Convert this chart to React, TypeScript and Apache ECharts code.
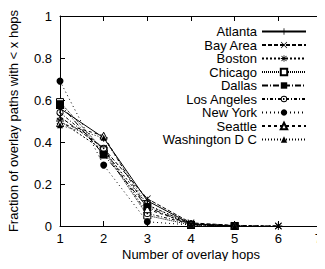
import React, { useEffect, useRef } from "react";
import * as echarts from "echarts";

const hops = [1, 2, 3, 4, 5, 6];
const cities = ["Atlanta", "Bay Area", "Boston", "Chicago", "Dallas", "Los Angeles", "New York", "Seattle", "Washington D C"];
const atlanta = [0.56, 0.42, 0.12, 0.01, 0.0];
const bayArea = [0.52, 0.37, 0.13, 0.015, 0.003, 0.0];
const boston = [0.5, 0.36, 0.1, 0.01, 0.002, 0.0];
const chicago = [0.59, 0.36, 0.05, 0.005, 0.0];
const dallas = [0.58, 0.34, 0.09, 0.005, 0.0];
const losAngeles = [0.54, 0.37, 0.06, 0.01, 0.0];
const newYork = [0.69, 0.29, 0.02, 0.005, 0.0];
const seattle = [0.49, 0.43, 0.08, 0.01, 0.0];
const washington = [0.48, 0.42, 0.1, 0.01, 0.0];
const values = [atlanta, bayArea, boston, chicago, dallas, losAngeles, newYork, seattle, washington];

const PLUS = "path://M4.4,0H5.6V4.4H10V5.6H5.6V10H4.4V5.6H0V4.4H4.4Z";
const CROSS = "path://M0.8,0L5,4.2L9.2,0L10,0.8L5.8,5L10,9.2L9.2,10L5,5.8L0.8,10L0,9.2L4.2,5L0,0.8Z";
const STAR = "path://M4.4,0H5.6V4.4H10V5.6H5.6V10H4.4V5.6H0V4.4H4.4Z M1.5,0.7L5,4.2L8.5,0.7L9.3,1.5L5.8,5L9.3,8.5L8.5,9.3L5,5.8L1.5,9.3L0.7,8.5L4.2,5L0.7,1.5Z";
const ODOT = "path://M5,0A5,5 0 0,0 5,10A5,5 0 0,0 5,0ZM5,1.3A3.7,3.7 0 0,1 5,8.7A3.7,3.7 0 0,1 5,1.3ZM5,3.8A1.2,1.2 0 0,0 5,6.2A1.2,1.2 0 0,0 5,3.8Z";

const symbols = [PLUS, CROSS, STAR, "rect", "rect", ODOT, "circle", "triangle", "triangle"];
const symbolSizes = [8, 7, 8, 7, 8, 7, 7, 7, 6];
const fills = ["#000", "#000", "#000", "#fff", "#000", "#000", "#000", "#fff", "#000"];
const borders = [0, 0, 0, 1, 0, 0, 0, 1, 0];
const dashes: any[] = ["solid", [4, 2], [2, 2], [1, 1], [6, 2, 1, 2], [3, 2, 1, 2], [1, 3], [3, 3], [1, 2]];

export default function App() {
  const ref = useRef<HTMLDivElement>(null);
  useEffect(() => {
    const chart = echarts.init(ref.current!, null, { renderer: "svg" });
    const font = "Liberation Sans, Arial, Helvetica, sans-serif";
    const axisCommon = {
      axisLine: { show: true, onZero: false, lineStyle: { color: "#000", width: 1 } },
      axisTick: { show: true, inside: true, length: 5, lineStyle: { color: "#000" } },
      splitLine: { show: false },
    };
    chart.setOption({
      animation: false,
      textStyle: { fontFamily: font, color: "#000" },
      grid: { left: 60, right: 3, top: 16, bottom: 43, outerBoundsMode: "none" },
      legend: {
        orient: "vertical",
        right: 18,
        top: 25,
        padding: 0,
        align: "right",
        itemWidth: 44,
        itemHeight: 8,
        itemGap: 0.5,
        textStyle: { fontSize: 13, lineHeight: 13, color: "#000", fontFamily: font },
        data: cities,
      },
      xAxis: [
        {
          type: "value",
          min: 1,
          max: 7,
          interval: 1,
          name: "Number of overlay hops",
          nameLocation: "middle",
          nameGap: 22,
          nameMoveOverlap: false,
          nameTextStyle: { fontSize: 13, lineHeight: 13, color: "#000" },
          axisLabel: { fontSize: 13, lineHeight: 13, color: "#000", margin: 6, showMaxLabel: true, showMinLabel: true, alignMaxLabel: "right", hideOverlap: false },
          ...axisCommon,
        },
        {
          type: "value",
          position: "top",
          min: 1,
          max: 7,
          interval: 1,
          axisLabel: { show: false },
          ...axisCommon,
        },
      ],
      yAxis: [
        {
          type: "value",
          min: 0,
          max: 1,
          interval: 0.2,
          name: "Fraction of overlay paths with < x hops",
          nameLocation: "middle",
          nameGap: 40,
          nameMoveOverlap: false,
          nameTextStyle: { fontSize: 13, color: "#000" },
          axisLabel: { fontSize: 13, color: "#000", margin: 8, formatter: (v: number) => String(Math.round(v * 10) / 10) },
          ...axisCommon,
        },
        {
          type: "value",
          position: "right",
          min: 0,
          max: 1,
          interval: 0.2,
          axisLabel: { show: false },
          ...axisCommon,
        },
      ],
      series: cities.map((c, i) => ({
        name: c,
        type: "line",
        data: values[i].map((v, j) => [hops[j], v]),
        symbol: symbols[i],
        symbolSize: symbolSizes[i],
        showAllSymbol: true,
        lineStyle: { color: "#000", width: 1, type: dashes[i] },
        itemStyle: { color: fills[i], borderColor: "#000", borderWidth: borders[i] },
        emphasis: { disabled: true },
      })),
    });
    return () => chart.dispose();
  }, []);
  return <div ref={ref} style={{ width: 325, height: 269, margin: -8 }} />;
}
